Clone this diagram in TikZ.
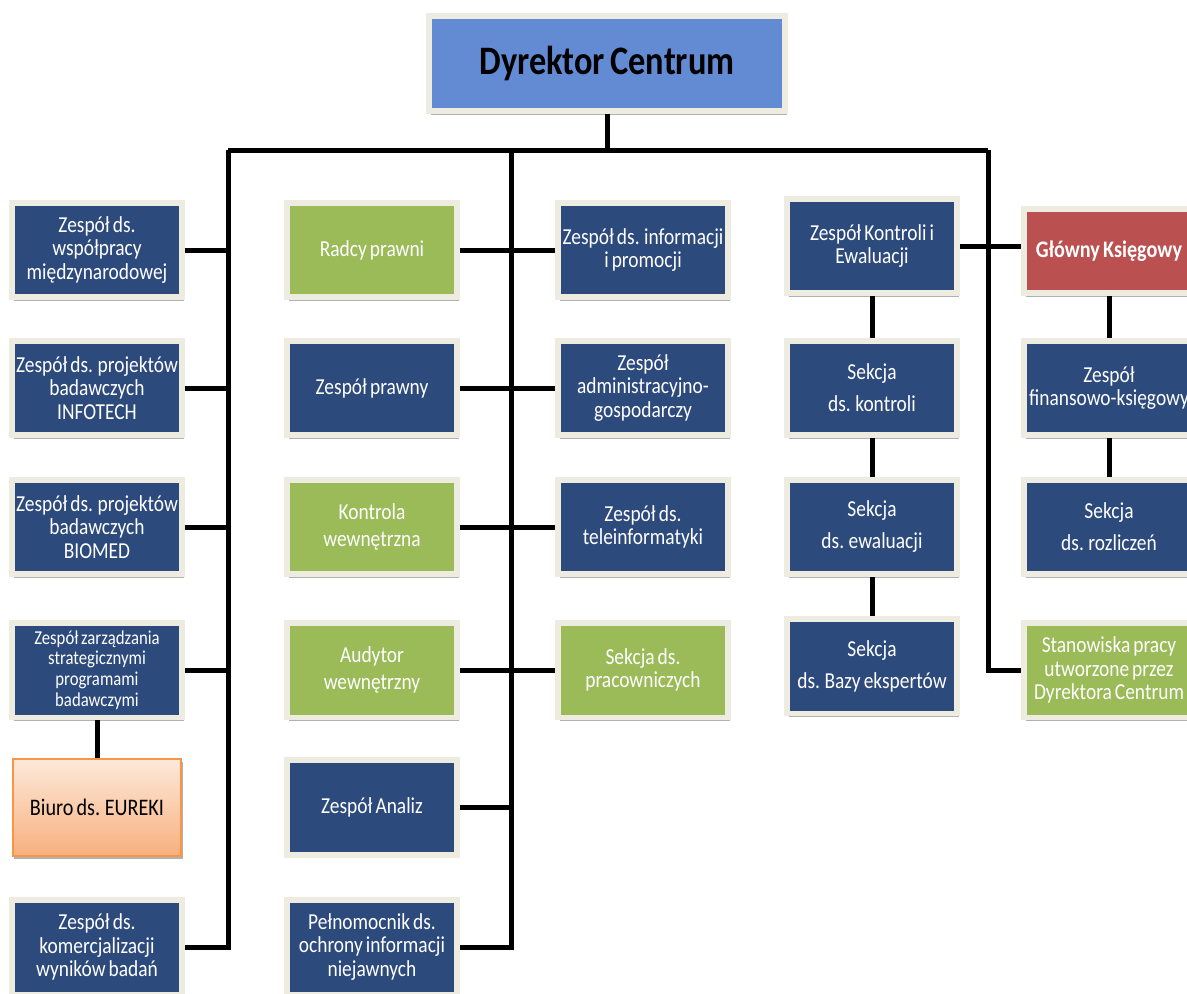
\documentclass[tikz,border=0pt]{standalone}
\usepackage{fontspec}
\setmainfont{Carlito}[FakeStretch=0.85,WordSpace={0.7,0.3,0.3}]
\usetikzlibrary{positioning,shadows}

\definecolor{frame}{HTML}{EEECE1}
\definecolor{navy}{HTML}{2D4A7C}
\definecolor{leaf}{HTML}{9BBB59}
\definecolor{brick}{HTML}{BA504F}
\definecolor{sky}{HTML}{628BD3}
\definecolor{peachtop}{HTML}{FDE9DA}
\definecolor{peachbot}{HTML}{F7B07E}
\definecolor{peachline}{HTML}{F79646}

\begin{document}
\begin{tikzpicture}[
  x=0.02cm, y=-0.02cm,
  teambox/.style={draw=frame,line width=1.2mm,fill=navy,text=white,
    minimum width=3.4cm,minimum height=1.9cm,inner sep=0pt,
    align=center,font=\fontsize{13}{13.2}\selectfont,
    drop shadow={shadow xshift=1pt,shadow yshift=-2pt,opacity=.3,fill=black}},
  greenbox/.style={teambox,fill=leaf},
  redbox/.style={teambox,fill=brick,font=\fontsize{13.5}{14}\selectfont\bfseries,minimum height=1.68cm},
  headbox/.style={teambox,fill=sky,text=black,minimum width=7.12cm,
    font=\fontsize{23}{24}\selectfont\bfseries},
  eurekabox/.style={draw=peachline,line width=0.4mm,top color=peachtop,bottom color=peachbot,
    text=black,minimum width=3.38cm,minimum height=1.94cm,inner sep=0pt,
    align=center,font=\fontsize{13.5}{14}\selectfont,
    drop shadow={shadow xshift=1pt,shadow yshift=-2pt,opacity=.3,fill=black}},
  link/.style={line width=1mm,black}
]
\clip (0,0) rectangle (1187,994);
\fill[white] (0,0) rectangle (1187,994);

\node[headbox] (dyr) at (607,63.5) {Dyrektor Centrum};

% lewa kolumna
\node[teambox] (wsp) at (97,250) {Zespół ds.\\współpracy\\międzynarodowej};
\node[teambox] (infotech) at (97,388) {Zespół ds. projektów\\badawczych\\INFOTECH};
\node[teambox] (biomed) at (97,527) {Zespół ds. projektów\\badawczych\\BIOMED};
\node[teambox,font=\fontsize{11.2}{11.8}\selectfont] (strat) at (97,670) {Zespół zarządzania\\strategicznymi\\programami\\badawczymi};
\node[eurekabox] (eureki) at (97,807) {Biuro ds. EUREKI};
\node[teambox] (komerc) at (97,947) {Zespół ds.\\komercjalizacji\\wyników badań};

% srodkowa kolumna
\node[greenbox] (radcy) at (372,250) {Radcy prawni};
\node[teambox] (prawny) at (372,388) {Zespół prawny};
\node[greenbox] (kontrola) at (372,527) {Kontrola\\[2pt]wewnętrzna};
\node[greenbox] (audytor) at (372,670) {Audytor\\[2pt]wewnętrzny};
\node[teambox] (analiz) at (372,807) {Zespół Analiz};
\node[teambox] (pelnom) at (372,947) {Pełnomocnik ds.\\ochrony informacji\\niejawnych};

\node[teambox] (info) at (643,250) {Zespół ds. informacji\\i promocji};
\node[teambox] (admin) at (643,388) {Zespół\\administracyjno-\\gospodarczy};
\node[teambox] (tele) at (643,527) {Zespół ds.\\teleinformatyki};
\node[greenbox] (kadry) at (643,670) {Sekcja ds.\\pracowniczych};

% prawa strona
\node[teambox] (kontroli) at (872,246) {Zespół Kontroli i\\Ewaluacji};
\node[teambox] (skontr) at (872,388) {Sekcja\\[5pt]ds. kontroli};
\node[teambox] (sewal) at (872,527) {Sekcja\\[5pt]ds. ewaluacji};
\node[teambox] (sbazy) at (872,666) {Sekcja\\[5pt]ds. Bazy ekspertów};

\node[redbox] (glowny) at (1109,251) {Główny Księgowy};
\node[teambox] (finans) at (1109,388) {Zespół\\finansowo-księgowy};
\node[teambox] (rozl) at (1109,527) {Sekcja\\[5pt]ds. rozliczeń};
\node[greenbox] (stan) at (1109,670) {Stanowiska pracy\\utworzone przez\\Dyrektora Centrum};

\coordinate (busL) at (228,150);
\coordinate (busM) at (511,150);
\coordinate (busR) at (988,150);

\draw[link] (dyr.south) -- (dyr.south |- busL);
\draw[link] (busL) -- (busR);
\draw[link] (busL) |- (komerc.east);
\draw[link] (busM) |- (pelnom.east);
\draw[link] (busR) |- (stan.west);

\draw[link] (wsp.east) -- (wsp.east -| busL);
\draw[link] (infotech.east) -- (infotech.east -| busL);
\draw[link] (biomed.east) -- (biomed.east -| busL);
\draw[link] (strat.east) -- (strat.east -| busL);
\draw[link] (strat) -- (eureki);

\draw[link] (radcy) -- (info);
\draw[link] (prawny) -- (admin);
\draw[link] (kontrola) -- (tele);
\draw[link] (audytor) -- (kadry);
\draw[link] (analiz.east) -- (analiz.east -| busM);

\draw[link] (kontroli.east) -- (kontroli.east -| glowny.west);
\draw[link] (kontroli) -- (skontr);
\draw[link] (skontr) -- (sewal);
\draw[link] (sewal) -- (sbazy);
\draw[link] (glowny) -- (finans);
\draw[link] (finans) -- (rozl);
\end{tikzpicture}
\end{document}
